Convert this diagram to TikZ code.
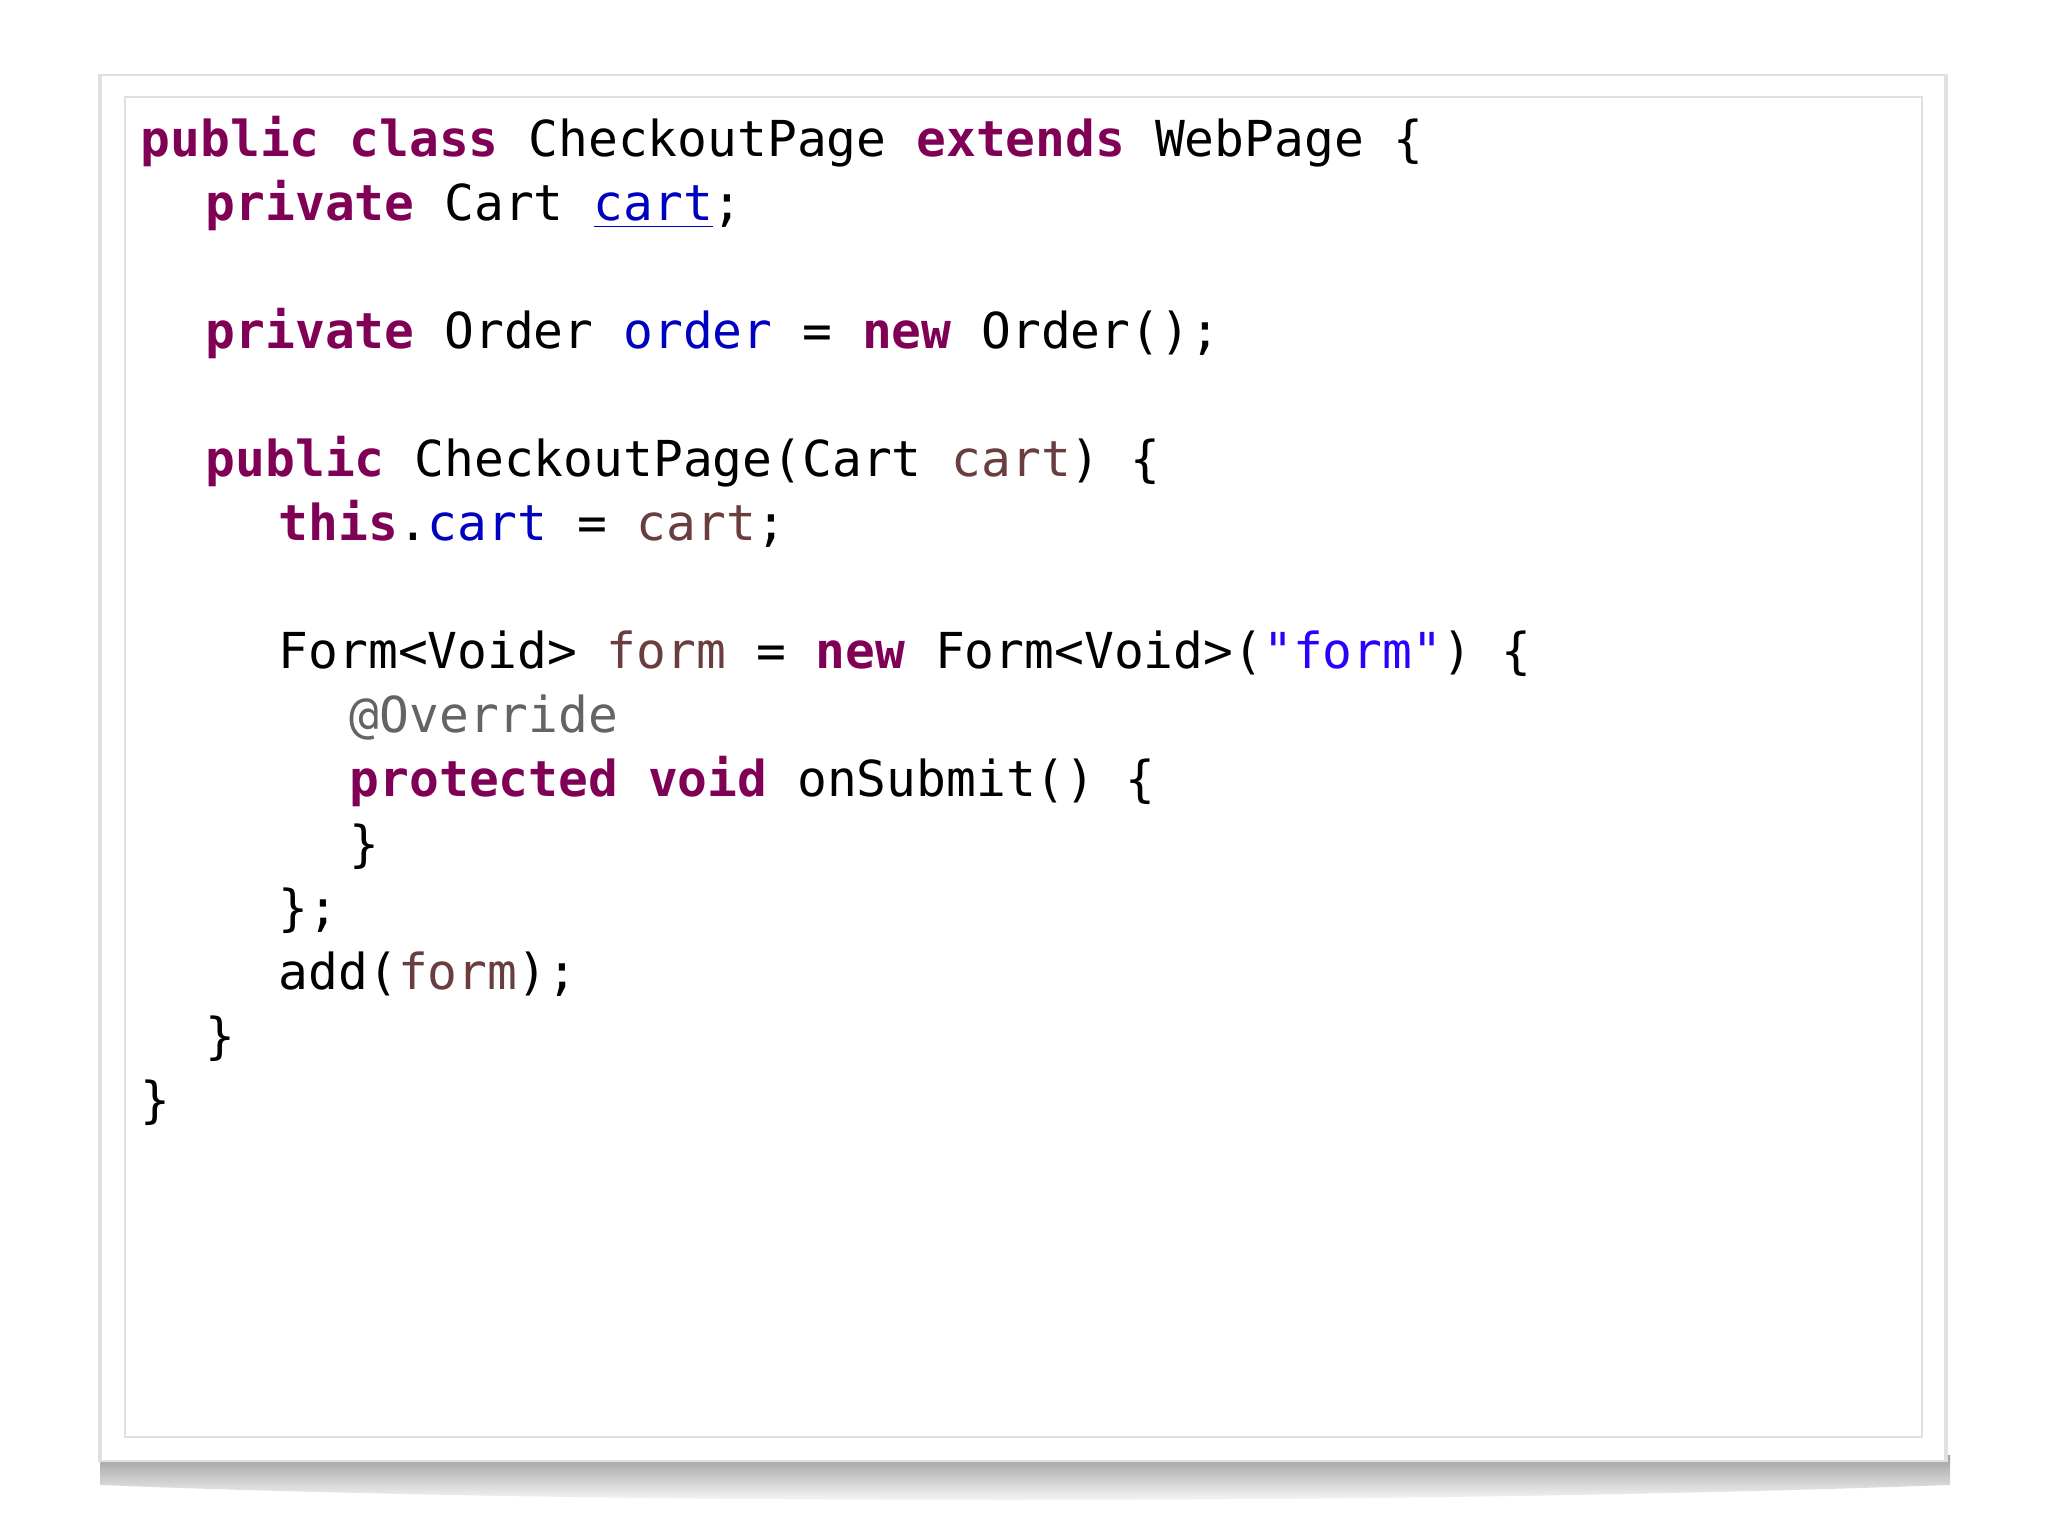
\documentclass[tikz,border=0pt]{standalone}
\usepackage{fontspec}
\setmonofont{DejaVu Sans Mono}
\definecolor{kw}{HTML}{7F0055}
\definecolor{fld}{HTML}{0000C0}
\definecolor{loc}{HTML}{6A3E3E}
\definecolor{str}{HTML}{2A00FF}
\definecolor{ann}{HTML}{646464}
\newcommand{\K}[1]{\textcolor{kw}{\textbf{#1}}}
\newcommand{\F}[1]{\textcolor{fld}{#1}}
\newcommand{\Lc}[1]{\textcolor{loc}{#1}}
\begin{document}
\begin{tikzpicture}[
  code/.style={anchor=base west,inner sep=0pt,font=\ttfamily\fontsize{14.1pt}{18pt}\selectfont,text=black}]
\useasboundingbox (0,0) rectangle (20.48,-15.36);
\fill[white] (0,0) rectangle (20.48,-15.36);
% shadow
\shade[top color=black!38,bottom color=white] (1.0,-14.55) -- (19.5,-14.55) -- (19.5,-14.85) .. controls (14,-15.05) and (6,-15.05) .. (1.0,-14.85) -- cycle;
\fill[black!12] (0.98,-0.74) rectangle (19.48,-14.62);
\fill[white] (1.02,-0.76) rectangle (19.44,-14.60);
\draw[black!12,line width=0.6pt] (1.25,-0.97) rectangle (19.22,-14.37);
\begin{scope}[yshift=-0.04cm]
\node[code] (l1) at (1.40,-1.53) {\K{public} \K{class} CheckoutPage \K{extends} WebPage \{};
\node[code] (l2) at (2.05,-2.17) {\K{private} Cart \F{\underline{cart}};};
\node[code] (l3) at (2.05,-3.45) {\K{private} Order \F{order} = \K{new} Order();};
\node[code] (l4) at (2.05,-4.73) {\K{public} CheckoutPage(Cart \Lc{cart}) \{};
\node[code] (l5) at (2.78,-5.37) {\K{this}.\F{cart} = \Lc{cart};};
\node[code] (l6) at (2.78,-6.65) {Form<Void> \Lc{form} = \K{new} Form<Void>(\textcolor{str}{"form"}) \{};
\node[code] (l7) at (3.49,-7.29) {\textcolor{ann}{@Override}};
\node[code] (l8) at (3.49,-7.93) {\K{protected} \K{void} onSubmit() \{};
\node[code] (l9) at (3.49,-8.57) {\}};
\node[code] (l10) at (2.78,-9.21) {\};};
\node[code] (l11) at (2.78,-9.85) {add(\Lc{form});};
\node[code] (l12) at (2.05,-10.49) {\}};
\node[code] (l13) at (1.40,-11.13) {\}};
\end{scope}
\end{tikzpicture}
\end{document}
